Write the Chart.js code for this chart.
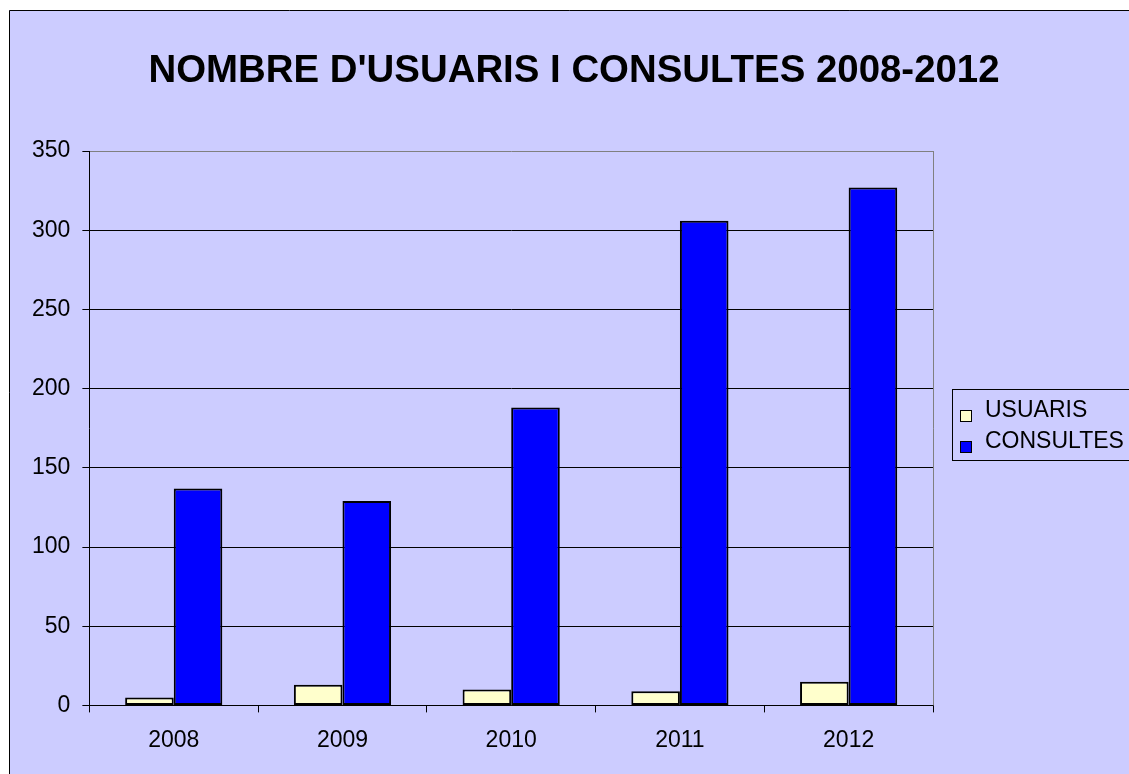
<!DOCTYPE html>
<html>
<head>
<meta charset="utf-8">
<title>Nombre d'usuaris i consultes 2008-2012</title>
<script src="https://cdn.jsdelivr.net/npm/chart.js@4.4.1/dist/chart.umd.min.js"></script>
<style>
    html, body { margin: 0; padding: 0; background: #ffffff; }
    canvas { display: block; }
</style>
</head>
<body>
<canvas id="usuarisChart" width="1129" height="774"></canvas>
<script>
// Data
const years = ['2008', '2009', '2010', '2011', '2012'];
const usuaris = [5, 13, 10, 9, 15];
const consultes = [137, 129, 188, 306, 327];
const yTicks = [0, 50, 100, 150, 200, 250, 300, 350];
const chartTitle = "NOMBRE D'USUARIS I CONSULTES 2008-2012";

const FONT = "'Liberation Sans', Arial, sans-serif";

// Lavender panel with a thin border on top and left
const panelBackground = {
    id: 'panelBackground',
    beforeDraw(chart) {
        const c = chart.ctx;
        c.save();
        c.fillStyle = '#ffffff';
        c.fillRect(0, 0, chart.width, chart.height);
        c.fillStyle = '#ccccff';
        c.fillRect(9, 10, chart.width - 9, chart.height - 10);
        c.strokeStyle = '#000000';
        c.lineWidth = 1;
        c.beginPath();
        c.moveTo(chart.width, 10.5);
        c.lineTo(9.5, 10.5);
        c.lineTo(9.5, chart.height);
        c.stroke();
        c.restore();
    }
};

// Title centred on the whole panel (the built-in one centres on the layout box)
const panelTitle = {
    id: 'panelTitle',
    afterDraw(chart) {
        const c = chart.ctx;
        c.save();
        c.font = 'bold 38.4px ' + FONT;
        c.fillStyle = '#000000';
        c.textAlign = 'center';
        c.textBaseline = 'middle';
        c.fillText(chartTitle, 574, 71);
        c.restore();
    }
};

// Grey right edge of the plot area
const plotEdge = {
    id: 'plotEdge',
    afterDatasetsDraw(chart) {
        const a = chart.chartArea;
        const c = chart.ctx;
        c.save();
        c.strokeStyle = '#808080';
        c.lineWidth = 1;
        c.beginPath();
        c.moveTo(Math.round(a.right) + 0.5, a.top);
        c.lineTo(Math.round(a.right) + 0.5, a.bottom);
        c.stroke();
        c.restore();
    }
};

// Boxed legend on the right, like the spreadsheet one
const boxLegend = {
    id: 'boxLegend',
    afterDraw(chart) {
        const c = chart.ctx;
        c.save();
        c.strokeStyle = '#000000';
        c.lineWidth = 1;
        c.strokeRect(952.5, 389.5, 200, 71);
        c.font = '23px ' + FONT;
        c.textBaseline = 'alphabetic';
        chart.data.datasets.forEach((ds, i) => {
            const base = 417 + i * 31;
            c.fillStyle = ds.backgroundColor;
            c.fillRect(960.5, base - 6.5, 11, 11);
            c.strokeRect(960.5, base - 6.5, 11, 11);
            c.fillStyle = '#000000';
            c.fillText(ds.label, 985, base);
        });
        c.restore();
    }
};

const ctx = document.getElementById('usuarisChart').getContext('2d');
const usuarisChart = new Chart(ctx, {
    type: 'bar',
    data: {
        labels: years,
        datasets: [{
            label: 'USUARIS',
            data: usuaris,
            backgroundColor: '#ffffcc',
            borderColor: '#000000',
            borderWidth: 2,
            borderSkipped: false
        }, {
            label: 'CONSULTES',
            data: consultes,
            backgroundColor: '#0000ff',
            borderColor: '#000000',
            borderWidth: 2,
            borderSkipped: false
        }]
    },
    options: {
        responsive: false,
        animation: false,
        datasets: {
            bar: {
                categoryPercentage: 0.576,
                barPercentage: 1
            }
        },
        layout: {
            padding: { top: 151, left: 20, right: 196, bottom: 6 }
        },
        plugins: {
            legend: { display: false },
            tooltip: { enabled: false },
            title: { display: false }
        },
        scales: {
            x: {
                grid: {
                    offset: true,
                    drawOnChartArea: false,
                    tickLength: 7,
                    tickColor: '#000000'
                },
                border: { color: '#000000', width: 1 },
                ticks: {
                    color: '#000000',
                    font: { family: FONT, size: 23 },
                    padding: 14
                }
            },
            y: {
                min: 0,
                max: 350,
                afterBuildTicks: axis => {
                    axis.ticks = yTicks.map(v => ({ value: v }));
                },
                grid: {
                    color: c => (c.tick && c.tick.value === 350 ? '#808080' : '#000000'),
                    tickLength: 7,
                    tickColor: '#000000'
                },
                border: { color: '#000000', width: 1 },
                ticks: {
                    color: '#000000',
                    font: { family: FONT, size: 23 },
                    padding: 12
                }
            }
        }
    },
    plugins: [panelBackground, plotEdge, boxLegend, panelTitle]
});
</script>
</body>
</html>
